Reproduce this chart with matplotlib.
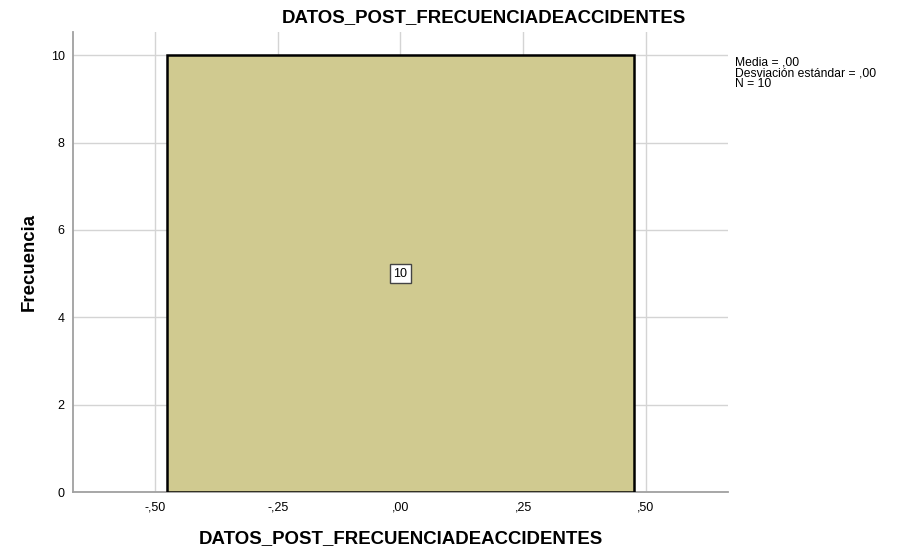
import matplotlib
matplotlib.use('Agg')
import matplotlib.pyplot as plt
from matplotlib.ticker import FuncFormatter
import numpy as np

plt.rcParams['font.family'] = ['Liberation Sans', 'DejaVu Sans']

# data: 10 observations, all zero
values = [0, 0, 0, 0, 0, 0, 0, 0, 0, 0]
bin_edges = [-0.475, 0.475]
x_ticks = [-0.5, -0.25, 0.0, 0.25, 0.5]
y_ticks = [0, 2, 4, 6, 8, 10]
var_name = 'DATOS_POST_FRECUENCIADEACCIDENTES'

fig = plt.figure(figsize=(9.03, 5.53), dpi=100)
ax = fig.add_axes([0.0808, 0.1103, 0.806 - 0.0808, 0.942 - 0.1103])

counts, edges, patches = ax.hist(values, bins=bin_edges, color='#d0ca90',
                                 edgecolor='black', linewidth=1.8, zorder=3)

ax.set_xlim(-0.667, 0.667)
ax.set_ylim(0, 10.53)
ax.set_xticks(x_ticks)
ax.set_yticks(y_ticks)

def comma_fmt(v, pos):
    s = '%.2f' % v
    if s.startswith('0'):
        s = s[1:]
    elif s.startswith('-0'):
        s = '-' + s[2:]
    return s.replace('.', ',')

ax.xaxis.set_major_formatter(FuncFormatter(comma_fmt))
ax.tick_params(axis='both', length=0, labelsize=9, colors='black')
ax.tick_params(axis='x', pad=7)
ax.tick_params(axis='y', pad=6)

ax.grid(True, color='#d4d4d4', linewidth=1, zorder=0)
ax.set_axisbelow(True)
for s in ['top', 'right']:
    ax.spines[s].set_visible(False)
for s in ['left', 'bottom']:
    ax.spines[s].set_color('#a0a0a0')
    ax.spines[s].set_linewidth(1.3)

# count label in the bar
for c, l, r in zip(counts, edges[:-1], edges[1:]):
    ax.text((l + r) / 2, c / 2, '%d' % c, ha='center', va='center', fontsize=9,
            zorder=4, bbox=dict(boxstyle='square,pad=0.25', fc='white', ec='#444444', lw=1))

ax.set_xlabel(var_name, fontsize=13.4, fontweight='bold', labelpad=12)
ax.set_ylabel('Frecuencia', fontsize=13.4, fontweight='bold', labelpad=9.5)
fig.text(0.536, 0.968, var_name, ha='center', va='center', fontsize=13.4, fontweight='bold')

mean = np.mean(values)
std = np.std(values, ddof=1)
stats = 'Media = %s\nDesviación estándar = %s\nN = %d' % (comma_fmt(mean, 0), comma_fmt(std, 0), len(values))
fig.text(0.814, 0.897, stats, ha='left', va='top', fontsize=8.7, linespacing=0.86)

fig.savefig('out.png', dpi=100)
